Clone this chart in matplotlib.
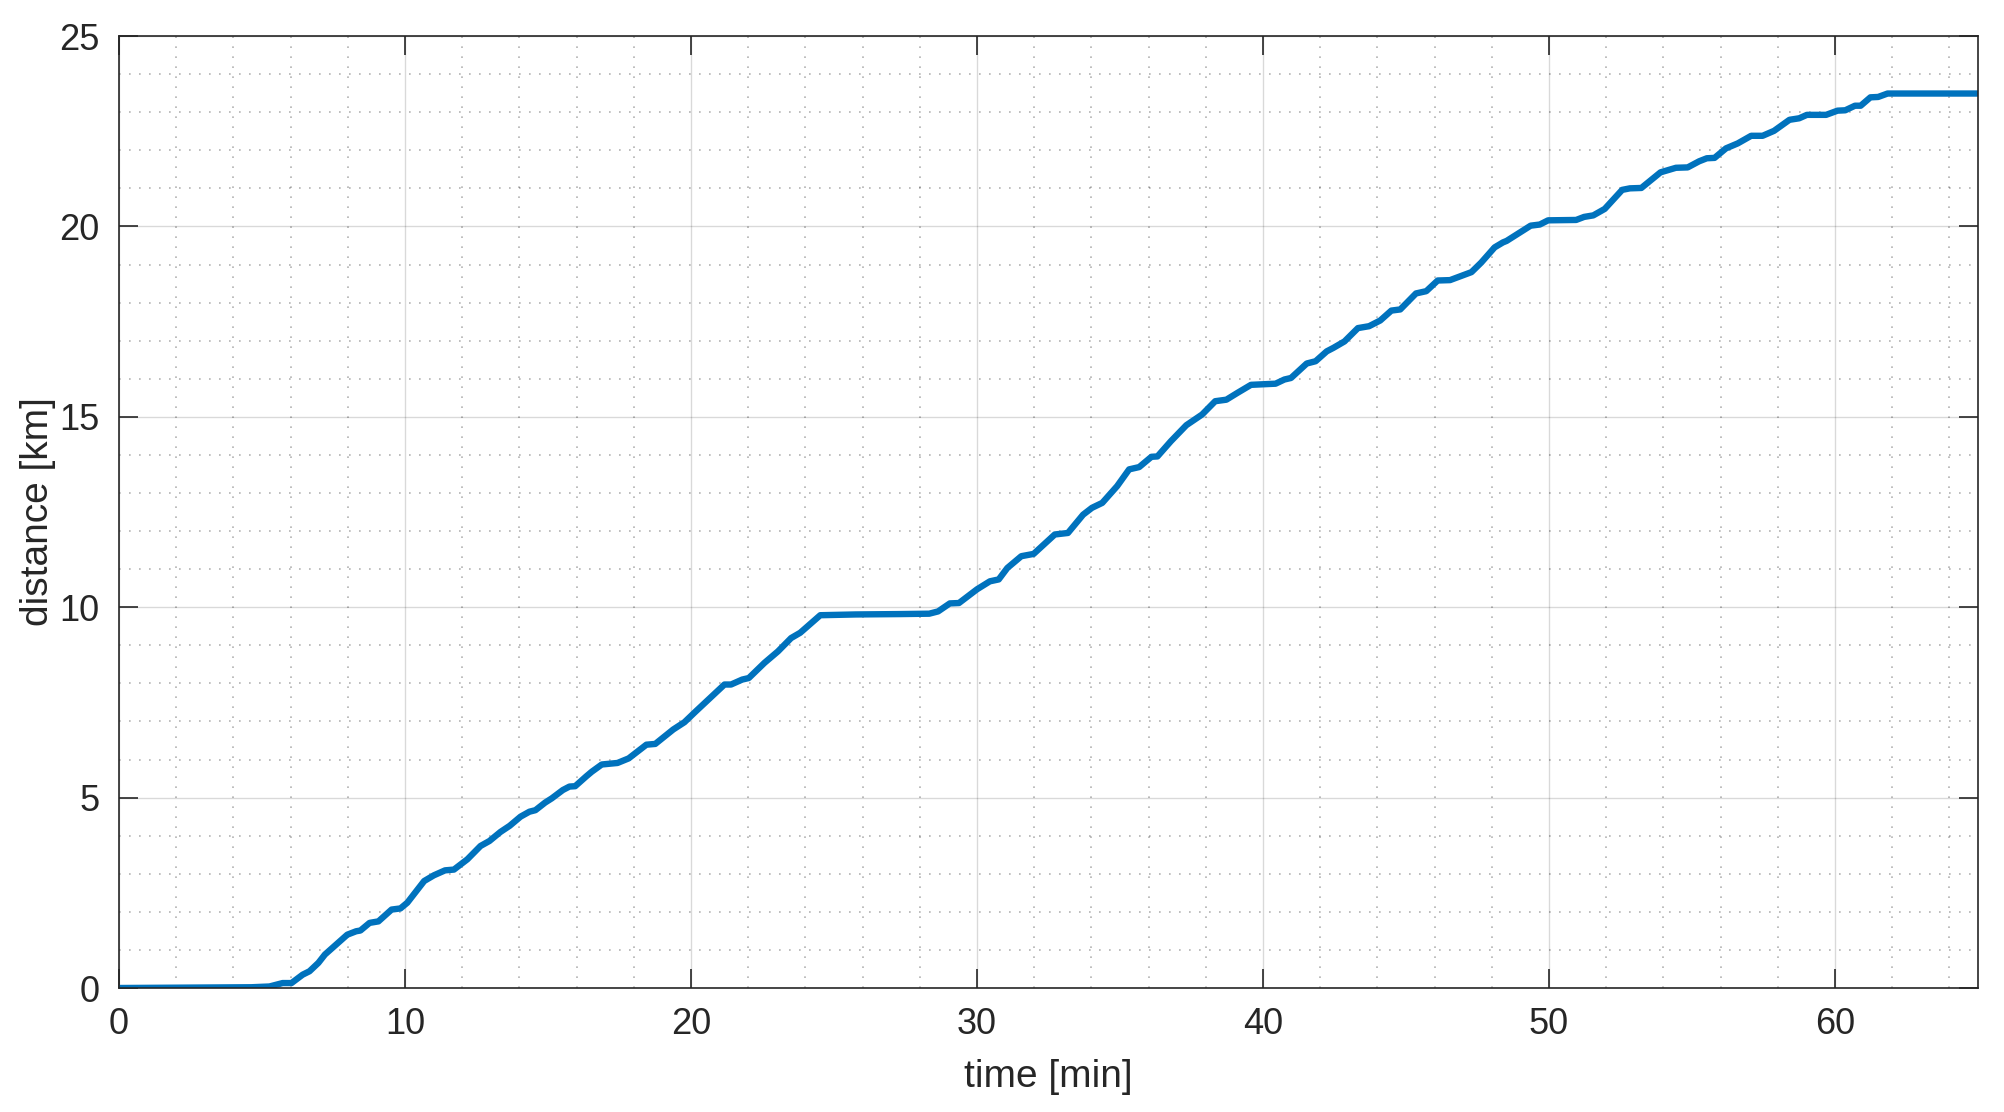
import numpy as np
import matplotlib.pyplot as plt
from matplotlib.ticker import MultipleLocator

# distance travelled over time
time_min = [0, 4.63, 5.26, 5.72, 6.03, 6.42, 6.66, 6.97, 7.2, 7.59, 7.98, 8.29, 8.44,
            8.76, 9.07, 9.53, 9.84, 10.08, 10.39, 10.67, 11.01, 11.4, 11.71, 12.18,
            12.64, 12.95, 13.34, 13.66, 14.04, 14.35, 14.56, 14.9, 15.13, 15.52,
            15.75, 15.95, 16.34, 16.53, 16.88, 17.43, 17.82, 18.44, 18.75, 19.38,
            19.77, 20.16, 20.86, 21.17, 21.4, 21.79, 22.02, 22.57, 23.04, 23.5,
            23.82, 24.52, 25.76, 27.32, 28.33, 28.64, 29.05, 29.37, 30.0, 30.45,
            30.76, 31.06, 31.55, 31.98, 32.72, 33.18, 33.71, 34.02, 34.38, 34.9,
            35.32, 35.67, 36.1, 36.31, 36.78, 37.32, 37.87, 38.33, 38.72, 39.11,
            39.58, 40.44, 40.75, 40.98, 41.53, 41.84, 42.23, 42.46, 42.85, 43.32,
            43.71, 44.1, 44.49, 44.8, 45.35, 45.71, 46.11, 46.54, 47.0, 47.29,
            47.63, 48.1, 48.39, 48.52, 48.9, 49.36, 49.68, 49.97, 50.95, 51.23,
            51.55, 51.95, 52.56, 52.83, 53.23, 53.9, 54.44, 54.85, 55.25, 55.52,
            55.79, 56.19, 56.6, 57.07, 57.47, 57.87, 58.41, 58.75, 59.02, 59.69,
            60.09, 60.36, 60.7, 60.9, 61.24, 61.51, 61.84, 62.92, 65.0]
distance_km = [0, 0.02, 0.04, 0.13, 0.13, 0.35, 0.44, 0.66, 0.88, 1.14, 1.40, 1.49, 1.51,
               1.71, 1.75, 2.06, 2.09, 2.24, 2.54, 2.81, 2.96, 3.09, 3.11, 3.38,
               3.73, 3.86, 4.1, 4.26, 4.5, 4.63, 4.67, 4.87, 4.98, 5.2,
               5.29, 5.3, 5.56, 5.68, 5.87, 5.91, 6.03, 6.39, 6.41, 6.79,
               6.98, 7.26, 7.75, 7.97, 7.97, 8.1, 8.14, 8.54, 8.84, 9.19,
               9.33, 9.79, 9.81, 9.82, 9.83, 9.89, 10.1, 10.11, 10.47, 10.68,
               10.73, 11.03, 11.34, 11.4, 11.91, 11.95, 12.43, 12.61, 12.74, 13.18,
               13.62, 13.68, 13.95, 13.96, 14.36, 14.78, 15.06, 15.41, 15.45, 15.63,
               15.84, 15.87, 15.98, 16.02, 16.4, 16.46, 16.72, 16.81, 16.98, 17.33,
               17.38, 17.53, 17.79, 17.82, 18.24, 18.3, 18.58, 18.59, 18.72, 18.8,
               19.05, 19.45, 19.58, 19.62, 19.8, 20.02, 20.05, 20.16, 20.17, 20.25,
               20.29, 20.46, 20.96, 21.0, 21.01, 21.42, 21.54, 21.55, 21.71, 21.79,
               21.8, 22.05, 22.18, 22.38, 22.38, 22.51, 22.8, 22.84, 22.93, 22.93,
               23.04, 23.05, 23.17, 23.17, 23.39, 23.4, 23.49, 23.49, 23.49]

x_ticks = [0, 10, 20, 30, 40, 50, 60]
y_ticks = [0, 5, 10, 15, 20, 25]

axis_col = '#262626'

plt.rcParams['font.family'] = ['Liberation Sans', 'DejaVu Sans']

fig = plt.figure(figsize=(10.02, 5.56), dpi=200)
ax = fig.add_axes([0.0594, 0.1115, 0.9276, 0.8561])

ax.plot(time_min, distance_km, color='#0072BD', linewidth=2.3, solid_joinstyle='round')

ax.set_xlim(0, 65)
ax.set_ylim(0, 25)
ax.set_xticks(x_ticks)
ax.set_yticks(y_ticks)
ax.xaxis.set_minor_locator(MultipleLocator(2))
ax.yaxis.set_minor_locator(MultipleLocator(1))

# matlab style grid: light solid major, dotted minor
ax.grid(which='major', color='#000000', alpha=0.15, linewidth=0.5, linestyle='-')
ax.grid(which='minor', color='#000000', alpha=0.3, linewidth=0.6, linestyle=(0, (1, 5)))
ax.set_axisbelow(True)

ax.tick_params(which='major', direction='in', length=7, width=0.6, color=axis_col,
               top=True, right=True, labelsize=13, labelcolor=axis_col, pad=7)
ax.tick_params(which='minor', length=0, top=True, right=True)
for s in ax.spines.values():
    s.set_color(axis_col)
    s.set_linewidth(0.6)

ax.set_xlabel('time [min]', fontsize=14, color=axis_col, labelpad=6)
ax.set_ylabel('distance [km]', fontsize=14, color=axis_col, labelpad=1)

fig.savefig('out.png', dpi=200, facecolor='white')
